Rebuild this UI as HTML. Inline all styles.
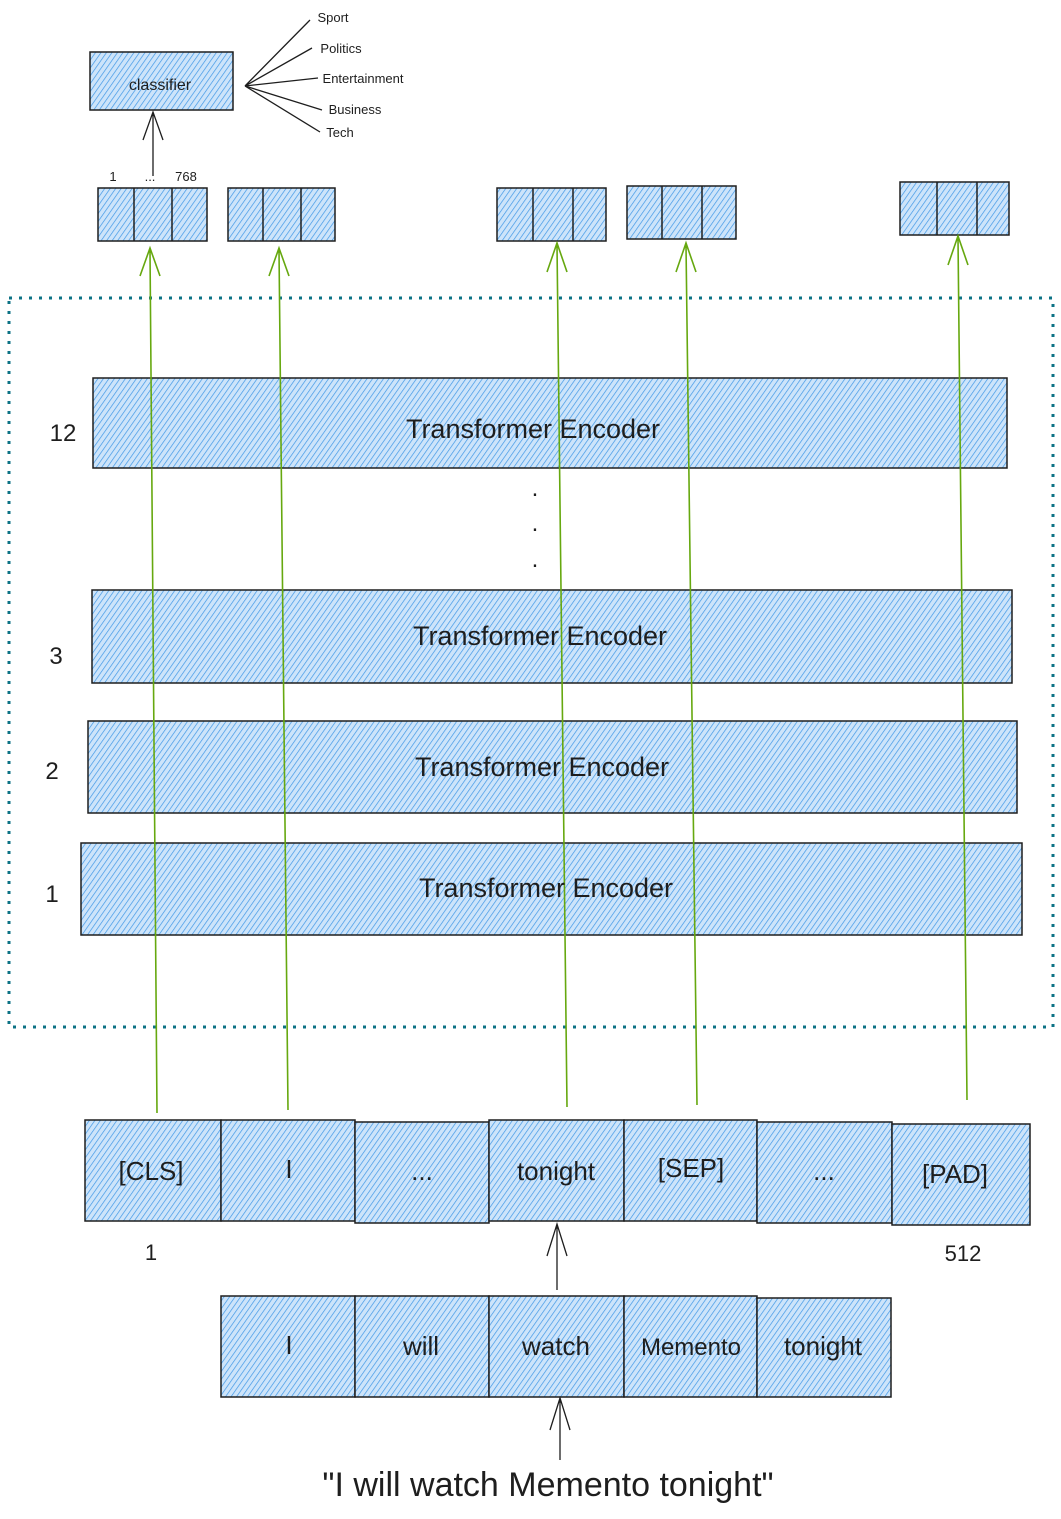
<!DOCTYPE html>
<html><head><meta charset="utf-8"><style>
html,body{margin:0;padding:0;background:#fff;}
svg{display:block;}
text{font-family:"Liberation Sans",sans-serif;fill:#1e1e1e;}
</style></head><body>
<svg width="1061" height="1519" viewBox="0 0 1061 1519" xmlns="http://www.w3.org/2000/svg">
<defs>
<pattern id="h" width="4.5" height="5" patternUnits="userSpaceOnUse" patternTransform="rotate(35)">
<rect width="5" height="5" fill="#cde4fa"/>
<line x1="0" y1="0" x2="0" y2="5" stroke="#3f97e6" stroke-width="1.4"/>
</pattern>
</defs>
<g stroke="#1e1e1e" stroke-width="1.5" fill="url(#h)">
<rect x="90" y="52" width="143" height="58"/>
<rect x="98" y="188" width="109" height="53"/><line x1="134" y1="188" x2="134" y2="241"/><line x1="172" y1="188" x2="172" y2="241"/>
<rect x="228" y="188" width="107" height="53"/><line x1="263" y1="188" x2="263" y2="241"/><line x1="301" y1="188" x2="301" y2="241"/>
<rect x="497" y="188" width="109" height="53"/><line x1="533" y1="188" x2="533" y2="241"/><line x1="573" y1="188" x2="573" y2="241"/>
<rect x="627" y="186" width="109" height="53"/><line x1="662" y1="186" x2="662" y2="239"/><line x1="702" y1="186" x2="702" y2="239"/>
<rect x="900" y="182" width="109" height="53"/><line x1="937" y1="182" x2="937" y2="235"/><line x1="977" y1="182" x2="977" y2="235"/>
<rect x="93" y="378" width="914" height="90"/>
<rect x="92" y="590" width="920" height="93"/>
<rect x="88" y="721" width="929" height="92"/>
<rect x="81" y="843" width="941" height="92"/>
<rect x="85" y="1120" width="136" height="101"/>
<rect x="221" y="1120" width="134" height="101"/>
<rect x="355" y="1122" width="134" height="101"/>
<rect x="489" y="1120" width="135" height="101"/>
<rect x="624" y="1120" width="133" height="101"/>
<rect x="757" y="1122" width="135" height="101"/>
<rect x="892" y="1124" width="138" height="101"/>
<rect x="221" y="1296" width="134" height="101"/>
<rect x="355" y="1296" width="134" height="101"/>
<rect x="489" y="1296" width="135" height="101"/>
<rect x="624" y="1296" width="133" height="101"/>
<rect x="757" y="1298" width="134" height="99"/>
</g>
<rect x="9" y="298" width="1044" height="729" fill="none" stroke="#0c7285" stroke-width="3" stroke-dasharray="3 7"/>
<g stroke="#1e1e1e" stroke-width="1.3" fill="none">
<path d="M245 86 L310 20 M245 86 L312 48 M245 86 L318 78 M245 86 L322 110 M245 86 L320 132"/>
<path d="M153 176 L153 114 M143 140 L153 112 L163 140"/>
<path d="M557 1290 L557 1226 M547 1256 L557 1224 L567 1256"/>
<path d="M560 1460 L560 1400 M550 1430 L560 1398 L570 1430"/>
</g>
<g stroke="#66a80f" stroke-width="1.6" fill="none">
<path d="M157 1113 L150 250 M140 276 L150 248 L160 276"/>
<path d="M288 1110 L279 250 M269 276 L279 248 L289 276"/>
<path d="M567 1107 L557 245 M547 272 L557 243 L567 272"/>
<path d="M697 1105 L686 245 M676 272 L686 243 L696 272"/>
<path d="M967 1100 L958 238 M948 265 L958 236 L968 265"/>
</g>
<g text-anchor="middle">
<text x="160" y="90" font-size="16">classifier</text>
<text x="333" y="22" font-size="13">Sport</text>
<text x="341" y="53" font-size="13">Politics</text>
<text x="363" y="83" font-size="13">Entertainment</text>
<text x="355" y="114" font-size="13">Business</text>
<text x="340" y="137" font-size="13">Tech</text>
<text x="113" y="181" font-size="13">1</text>
<text x="150" y="181" font-size="13">...</text>
<text x="186" y="181" font-size="13">768</text>
<text x="533" y="438" font-size="27">Transformer Encoder</text>
<text x="540" y="645" font-size="27">Transformer Encoder</text>
<text x="542" y="776" font-size="27">Transformer Encoder</text>
<text x="546" y="897" font-size="27">Transformer Encoder</text>
<text x="63" y="441" font-size="24">12</text>
<text x="56" y="664" font-size="24">3</text>
<text x="52" y="779" font-size="24">2</text>
<text x="52" y="902" font-size="24">1</text>
<text x="535" y="496" font-size="24">.</text>
<text x="535" y="531" font-size="24">.</text>
<text x="535" y="567" font-size="24">.</text>
<text x="151" y="1180" font-size="26">[CLS]</text>
<text x="289" y="1178" font-size="26">I</text>
<text x="422" y="1180" font-size="26">...</text>
<text x="556" y="1180" font-size="26">tonight</text>
<text x="691" y="1177" font-size="26">[SEP]</text>
<text x="824" y="1180" font-size="26">...</text>
<text x="955" y="1183" font-size="26">[PAD]</text>
<text x="151" y="1260" font-size="22">1</text>
<text x="963" y="1261" font-size="22">512</text>
<text x="289" y="1354" font-size="26">I</text>
<text x="421" y="1355" font-size="26">will</text>
<text x="556" y="1355" font-size="26">watch</text>
<text x="691" y="1355" font-size="24">Memento</text>
<text x="823" y="1355" font-size="26">tonight</text>
<text x="548" y="1496" font-size="34">"I will watch Memento tonight"</text>
</g>
</svg>
</body></html>
